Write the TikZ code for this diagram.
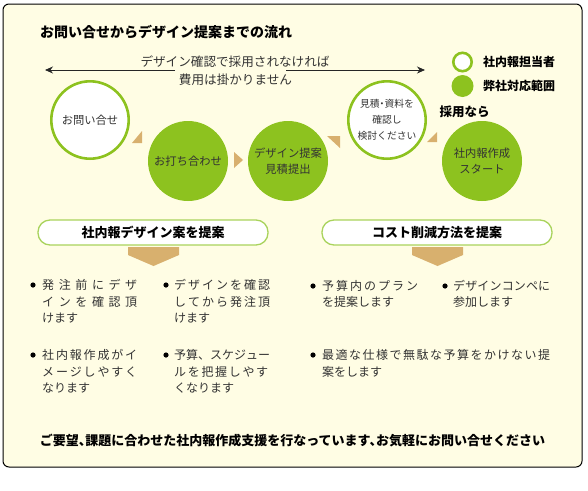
\documentclass[tikz,border=0pt]{standalone}
\usepackage{fontspec}
\setmainfont{Noto Sans CJK JP}
\usetikzlibrary{arrows.meta}
\definecolor{cream}{HTML}{FFFDE4}
\definecolor{grn}{HTML}{8DC21F}
\definecolor{lgrn}{HTML}{A9D35C}
\definecolor{tan}{HTML}{D8B06E}
\definecolor{txtgray}{HTML}{333333}
\def\mygob#1{}
\def\sprx#1#2{#1\ifx\relax#2\expandafter\mygob\else\hfill\expandafter\sprx\fi#2}
\newcommand\spr[2]{\hbox to #1{\sprx#2\relax}}
\begin{document}
\begin{tikzpicture}[x=1pt,y=-1pt,
  ttl/.style={font=\fontsize{14}{16}\selectfont\bfseries, anchor=west, inner sep=0, text=black},
  bld/.style={font=\fontsize{12.3}{14}\selectfont\bfseries, anchor=west, inner sep=0, text=black},
  txt/.style={font=\fontsize{12}{14}\selectfont, inner sep=0, text=txtgray},
  bul/.style={txt, anchor=west},
  dot/.style={circle, fill=black, minimum size=5.2pt, inner sep=0},
  wcirc/.style={circle, draw=grn, line width=2.6pt, fill=white, minimum size=77.4pt, inner sep=0,
     text=txtgray, align=center},
  gcirc/.style={circle, fill=grn, minimum size=80pt, inner sep=0, text=txtgray, align=center},
  cfont/.style={font=\fontsize{11.3}{16.5}\selectfont},
  pill/.style={draw=lgrn, line width=1.3pt, fill=white, rounded corners=12pt,
     minimum width=230pt, minimum height=25pt, inner sep=0,
     font=\fontsize{13}{15}\selectfont\bfseries, text=black},
  arr/.style={draw=black!85, line width=0.8pt, -{Stealth[length=8pt,width=7pt]}}
]
\useasboundingbox (0,0) rectangle (588,490);
% outer frame
\draw[fill=cream, draw=black, line width=1pt, rounded corners=6pt] (3,4) rectangle (582,467);

% title
\node[ttl] (title) at (40,32) {お問い合せからデザイン提案までの流れ};

% top arrow and note
\node[txt, font=\fontsize{12.6}{14}\selectfont] (note1) at (235,62) {デザイン確認で採用されなければ};
\node[txt, font=\fontsize{12.6}{14}\selectfont] (note2) at (235.5,80) {費用は掛かりません};
\coordinate (aLs) at (175,70);
\coordinate (aL) at (45,70);
\coordinate (aRs) at (286,70);
\coordinate (aR) at (425,70);
\draw[arr] (aLs) -- (aL);
\draw[arr] (aRs) -- (aR);

% legend
\node[circle, draw=grn, line width=2.6pt, fill=white, minimum size=18.4pt, inner sep=0] (lw) at (462.5,62) {};
\node[circle, fill=grn, minimum size=22pt, inner sep=0] (lg) at (462.5,86) {};
\node[bld, font=\fontsize{12}{14}\selectfont\bfseries] (lwt) at (483,62) {社内報担当者};
\node[bld, font=\fontsize{12}{14}\selectfont\bfseries] (lgt) at (483,86) {弊社対応範囲};
\node[bld, font=\fontsize{12.5}{14}\selectfont\bfseries] (adopt) at (439.5,112) {採用なら};

% flow circles
\node[wcirc, cfont] (c1) at (90,120) {お問い合せ};
\node[gcirc, cfont] (c2) at (188,161) {お打ち合わせ};
\node[gcirc, cfont] (c3) at (288,161) {デザイン提案\\見積提出};
\node[wcirc, font=\fontsize{9.8}{16}\selectfont\addfontfeatures{RawFeature=+halt}] (c4) at (387,120) {見積・資料を\\確認し\\検討ください};
\node[gcirc, cfont] (c5) at (482,161) {社内報作成\\スタート};

% tan triangles
\fill[tan] (132,143) -- (142,143) -- (142,131) -- cycle;
\fill[tan] (234,152) -- (234,168) -- (243,160) -- cycle;
\fill[tan] (327,136) -- (340,136) -- (340,148) -- cycle;
\fill[tan] (427,142) -- (437,142) -- (437,132) -- cycle;

% proposal pills
\node[pill] (p1) at (153,232.5) {社内報デザイン案を提案};
\node[pill] (p2) at (437,232.5) {コスト削減方法を提案};
\fill[tan] (128,247) -- (179,247) -- (179,255) -- (153.5,266) -- (128,255) -- cycle;
\fill[tan] (412,247) -- (463,247) -- (463,255) -- (437.5,266) -- (412,255) -- cycle;

% left bullets
\node[dot] (d1) at (33,285) {};
\node[bul] (t1a) at (42,285) {\spr{95pt}{発注前にデザ}};
\node[bul] (t1b) at (42,302) {\spr{95pt}{インを確認頂}};
\node[bul] (t1c) at (42,318) {けます};

\node[dot] (d2) at (166,285) {};
\node[bul] (t2a) at (174,285) {\spr{96pt}{デザインを確認}};
\node[bul] (t2b) at (174,302) {\spr{96pt}{してから発注頂}};
\node[bul] (t2c) at (174,318) {けます};

\node[dot] (d3) at (33,355) {};
\node[bul] (t3a) at (42,355) {\spr{95pt}{社内報作成がイ}};
\node[bul] (t3b) at (42,372) {\spr{95pt}{メージしやすく}};
\node[bul] (t3c) at (42,388) {なります};

\node[dot] (d4) at (166,355) {};
\node[bul] (t4a) at (174,355) {\spr{96pt}{予算、スケジュー}};
\node[bul] (t4b) at (174,372) {\spr{94pt}{ルを把握しやす}};
\node[bul] (t4c) at (174,388) {くなります};

% right bullets
\node[dot] (d5) at (313,286) {};
\node[bul] (t5a) at (322,286) {\spr{96pt}{予算内のプラン}};
\node[bul] (t5b) at (322,302) {を提案します};

\node[dot] (d6) at (445,286) {};
\node[bul] (t6a) at (453,286) {\spr{97pt}{デザインコンペに}};
\node[bul] (t6b) at (453,302) {参加します};

\node[dot] (d7) at (313,355) {};
\node[bul] (t7a) at (322,355) {\spr{228pt}{最適な仕様で無駄な予算をかけない提}};
\node[bul] (t7b) at (322,372) {案をします};

% footer
\node[bld, anchor=center, font=\fontsize{13}{14}\selectfont\bfseries\addfontfeatures{RawFeature=+halt}] (foot) at (292.5,441) {ご要望、課題に合わせた社内報作成支援を行なっています、お気軽にお問い合せください};
\end{tikzpicture}
\end{document}
